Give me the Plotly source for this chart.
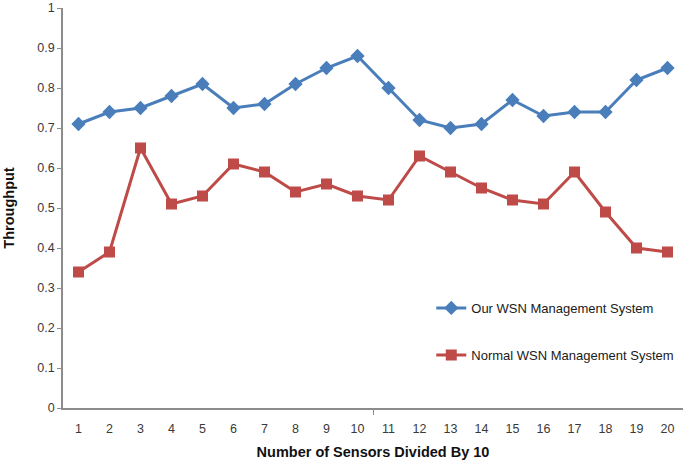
import plotly.graph_objects as go

x_vals = list(range(1, 21))
our_wsn = [0.71, 0.74, 0.75, 0.78, 0.81, 0.75, 0.76, 0.81, 0.85, 0.88,
           0.80, 0.72, 0.70, 0.71, 0.77, 0.73, 0.74, 0.74, 0.82, 0.85]
normal_wsn = [0.34, 0.39, 0.65, 0.51, 0.53, 0.61, 0.59, 0.54, 0.56, 0.53,
              0.52, 0.63, 0.59, 0.55, 0.52, 0.51, 0.59, 0.49, 0.40, 0.39]
y_ticks = [0, 0.1, 0.2, 0.3, 0.4, 0.5, 0.6, 0.7, 0.8, 0.9, 1]
y_labels = ["0", "0.1", "0.2", "0.3", "0.4", "0.5", "0.6", "0.7", "0.8", "0.9", "1"]

BLUE = "#4A7EBB"
RED = "#BE4B48"
FONT = "Liberation Sans"

fig = go.Figure()
fig.add_trace(go.Scatter(
    x=x_vals, y=our_wsn, mode="lines+markers", name="Our WSN Management System",
    line=dict(color=BLUE, width=3),
    marker=dict(symbol="diamond", size=11, color=BLUE),
    legend="legend", showlegend=True,
))
fig.add_trace(go.Scatter(
    x=x_vals, y=normal_wsn, mode="lines+markers", name="Normal WSN Management System",
    line=dict(color=RED, width=3),
    marker=dict(symbol="square", size=11, color=RED),
    legend="legend2", showlegend=True,
))

fig.update_layout(
    width=685, height=461,
    showlegend=True,
    margin=dict(l=63, r=2, t=8, b=53, autoexpand=False),
    paper_bgcolor="white", plot_bgcolor="white",
    font=dict(family=FONT, size=12, color="#3a3a3a"),
    legend=dict(x=0.594, y=0.25, xanchor="left", yanchor="middle", itemwidth=30,
                bgcolor="rgba(0,0,0,0)", font=dict(size=13, color="#1a1a1a")),
    legend2=dict(x=0.594, y=0.1325, xanchor="left", yanchor="middle", itemwidth=30,
                 bgcolor="rgba(0,0,0,0)", font=dict(size=13, color="#1a1a1a")),
    xaxis=dict(
        range=[0.5, 20.5], tickmode="array", tickvals=x_vals,
        ticktext=[str(v) for v in x_vals], automargin=False,
        showline=True, linecolor="#8C8C8C", linewidth=1.5,
        ticks="", showgrid=False, zeroline=False, ticklabelstandoff=8,
        minor=dict(tickmode="array", tickvals=[10.5], ticks="outside",
                   ticklen=5, tickcolor="#8C8C8C", showgrid=False),
        title=dict(text="<b>Number of Sensors Divided By 10</b>",
                   font=dict(size=14.5, color="#111111"), standoff=12),
        tickfont=dict(size=12.5, color="#3a3a3a"),
    ),
    yaxis=dict(
        range=[0, 1], tickmode="array", tickvals=y_ticks, ticktext=y_labels,
        automargin=False,
        showline=True, linecolor="#8C8C8C", linewidth=1.5,
        ticks="outside", ticklen=4, tickcolor="#8C8C8C",
        showgrid=False, zeroline=False,
        title=dict(text="<b>Throughput</b>", font=dict(size=14.5, color="#111111"), standoff=19),
        tickfont=dict(size=12.5, color="#3a3a3a"),
    ),
)

fig.write_html("out.html", config={"displayModeBar": False},
               post_script="document.body.style.margin='0';")
